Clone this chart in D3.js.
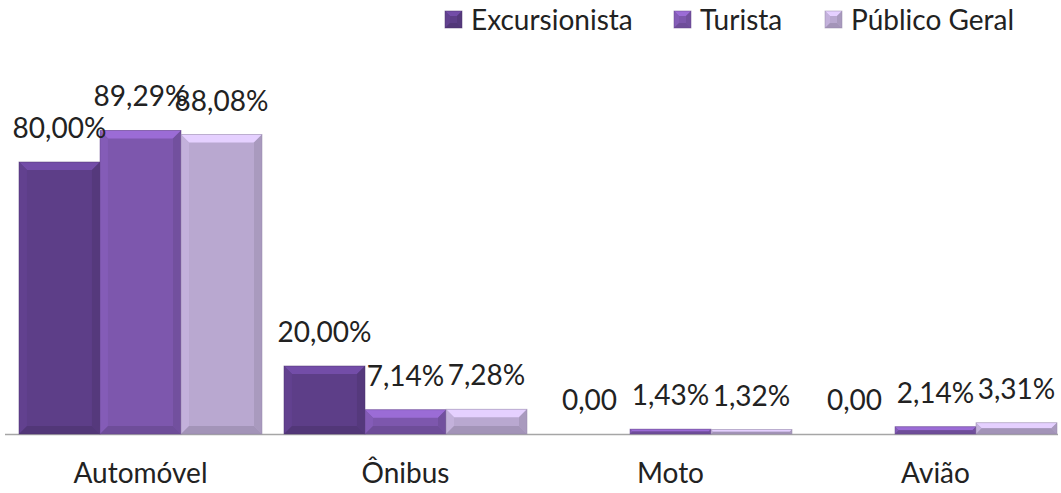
<!DOCTYPE html>
<html><head><meta charset="utf-8">
<script src="https://cdn.jsdelivr.net/npm/d3@7"></script>
<style>body{margin:0;background:#fff}svg{display:block}text{font-family:Lato,"Open Sans",sans-serif;fill:#222}</style>
</head><body><svg id="c" width="1061" height="493"></svg>
<script>
const categories = ["Automóvel","Ônibus","Moto","Avião"];
const seriesNames = ["Excursionista","Turista","Público Geral"];
const excursionista = [80.00, 20.00, 0, 0];
const turista = [89.29, 7.14, 1.43, 2.14];
const publicoGeral = [88.08, 7.28, 1.32, 3.31];
const labelsExc = ["80,00%","20,00%","0,00","0,00"];
const labelsTur = ["89,29%","7,14%","1,43%","2,14%"];
const labelsPub = ["88,08%","7,28%","1,32%","3,31%"];
const colors = ["#5d3e88","#7d57ad","#b9a8d0"];

const series = [excursionista, turista, publicoGeral];
const labels = [labelsExc, labelsTur, labelsPub];
const svg = d3.select("#c");
const x0 = d3.scaleBand().domain(categories).range([8,1068]).paddingInner(0.083).paddingOuter(0.0415);
const x1 = d3.scaleBand().domain(seriesNames).range([0,x0.bandwidth()]);
const y = d3.scaleLinear().domain([0,100]).range([434,94]);
const FS = 28;

svg.append("line").attr("x1",5).attr("x2",1058).attr("y1",y(0)+0.5).attr("y2",y(0)+0.5).attr("stroke","#a6a6a6").attr("stroke-width",1.5);

function bevelBar(g, x, yt, w, h, col, bmax){
  if(h<=0) return;
  const c = d3.color(col);
  const b = Math.min(bmax||8, h/2, w/2);
  g.append("rect").attr("x",x).attr("y",yt).attr("width",w).attr("height",h).attr("fill",col);
  g.append("polygon").attr("points",[[x,yt],[x+w,yt],[x+w-b,yt+b],[x+b,yt+b]].join(" ")).attr("fill",c.brighter(0.6));
  g.append("polygon").attr("points",[[x,yt],[x+b,yt+b],[x+b,yt+h-b],[x,yt+h]].join(" ")).attr("fill",c.brighter(0.15));
  g.append("polygon").attr("points",[[x+w,yt],[x+w,yt+h],[x+w-b,yt+h-b],[x+w-b,yt+b]].join(" ")).attr("fill",c.darker(0.25));
  g.append("polygon").attr("points",[[x,yt+h],[x+b,yt+h-b],[x+w-b,yt+h-b],[x+w,yt+h]].join(" ")).attr("fill",c.darker(0.35));
  g.append("rect").attr("x",x).attr("y",yt).attr("width",w).attr("height",h).attr("fill","none").attr("stroke",c.darker(0.6)).attr("stroke-width",0.8).attr("stroke-opacity",0.6);
}
function txt(g, x, yy, s, anchor){
  return g.append("text").attr("x",x).attr("y",yy)
    .attr("text-anchor",anchor||"middle").attr("font-size",FS).text(s);
}

const gBars = svg.append("g");
categories.forEach((cat,i)=>{
  seriesNames.forEach((s,j)=>{
    const v = series[j][i];
    bevelBar(gBars, x0(cat)+x1(s), y(v), x1.bandwidth(), y(0)-y(v), colors[j]);
  });
});
const gLab = svg.append("g");
categories.forEach((cat,i)=>{
  seriesNames.forEach((s,j)=>{
    const v = series[j][i];
    txt(gLab, x0(cat)+x1(s)+x1.bandwidth()/2, y(v)-24, labels[j][i]);
  });
  txt(svg, x0(cat)+x0.bandwidth()/2, 483, cat);
});

const legX = [445, 674, 825];
seriesNames.forEach((s,j)=>{
  const g = svg.append("g").attr("transform",`translate(${legX[j]},11)`);
  bevelBar(g,0,0,17,17,colors[j],5);
  txt(g, 26, 19, s, "start");
});
</script></body></html>
